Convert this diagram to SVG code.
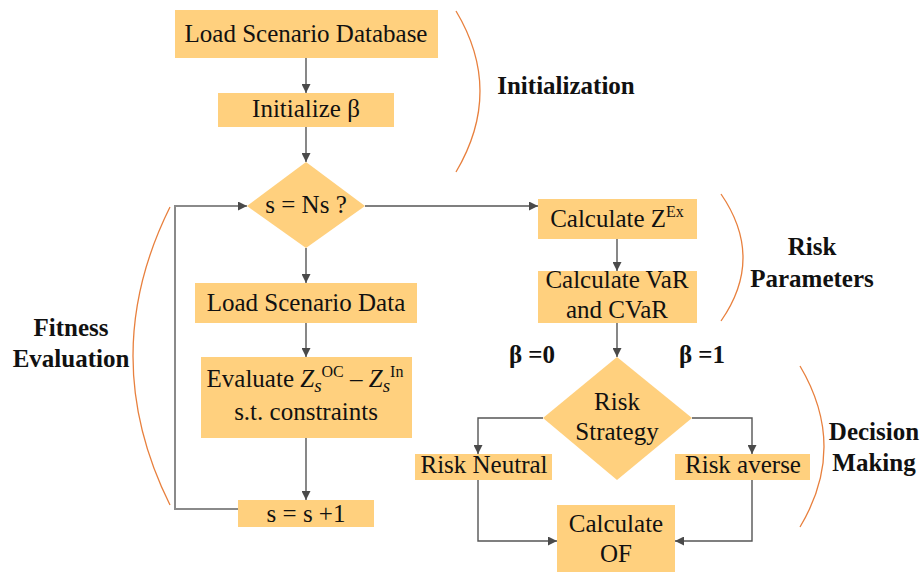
<svg xmlns="http://www.w3.org/2000/svg" width="923" height="573" viewBox="0 0 923 573">
<style>
.box{fill:#FFD07E}
.t{font-family:"Liberation Serif","Times New Roman",serif;font-size:25px;fill:#111;text-anchor:middle}
.b{font-family:"Liberation Serif","Times New Roman",serif;font-size:25px;font-weight:bold;fill:#111;text-anchor:middle}
.c{fill:none;stroke:#555;stroke-width:1.4}
.loop{fill:none;stroke:#8a8a8a;stroke-width:2}
.arc{fill:none;stroke:#E8803E;stroke-width:1.3}
</style>
<defs>
<marker id="ah" viewBox="0 0 10 10" refX="10" refY="5" markerWidth="9" markerHeight="9" markerUnits="userSpaceOnUse" orient="auto">
<path d="M0,0 L10,5 L0,10 z" fill="#4a4a4a"/>
</marker>
</defs>
<rect width="923" height="573" fill="#fff"/>
<g id="connectors">
<line class="c" x1="306" y1="58" x2="306" y2="93" marker-end="url(#ah)"/>
<line class="c" x1="306" y1="127" x2="306" y2="162" marker-end="url(#ah)"/>
<line class="c" x1="365" y1="206" x2="538" y2="206" marker-end="url(#ah)"/>
<line class="c" x1="306" y1="248" x2="306" y2="283" marker-end="url(#ah)"/>
<line class="c" x1="306" y1="323" x2="306" y2="357" marker-end="url(#ah)"/>
<line class="c" x1="306" y1="438" x2="306" y2="500" marker-end="url(#ah)"/>
<polyline class="loop" points="238,509 175,509 175,206 240,206"/>
<line class="c" x1="238" y1="206" x2="247" y2="206" marker-end="url(#ah)"/>
<line class="c" x1="617" y1="239" x2="617" y2="271" marker-end="url(#ah)"/>
<line class="c" x1="617" y1="323" x2="617" y2="357" marker-end="url(#ah)"/>
<polyline class="c" points="543,418 478,418 478,454" marker-end="url(#ah)"/>
<polyline class="c" points="692,418 752,418 752,454" marker-end="url(#ah)"/>
<polyline class="c" points="478,480 478,541 557,541" marker-end="url(#ah)"/>
<polyline class="c" points="752,480 752,541 675,541" marker-end="url(#ah)"/>
</g>
<g id="brackets">
<path class="arc" d="M456,11 Q504,91 456,172"/>
<path class="arc" d="M721,194 Q765,258 721,321"/>
<path class="arc" d="M800,366 Q848,447 800,527"/>
<path class="arc" d="M170,207 Q96,356 170,505"/>
</g>
<g id="n-load-db"><rect class="box" x="175" y="10" width="263" height="48"/><text class="t" x="306" y="42">Load Scenario Database</text></g>
<g id="n-init-beta"><rect class="box" x="218" y="93" width="176" height="34"/><text class="t" x="306" y="117">Initialize β</text></g>
<g id="n-s-ns"><polygon class="box" points="306,162 365,206 306,248 247,206"/><text class="t" x="306" y="213">s = Ns ?</text></g>
<g id="n-load-data"><rect class="box" x="195" y="283" width="222" height="40"/><text class="t" x="306" y="311">Load Scenario Data</text></g>
<g id="n-evaluate"><rect class="box" x="201" y="357" width="211" height="81"/>
<text class="t" x="305" y="387">Evaluate <tspan font-style="italic">Z</tspan><tspan font-style="italic" font-size="19" dy="5">s</tspan><tspan font-size="16" dy="-15">OC</tspan><tspan dy="10"> – </tspan><tspan font-style="italic">Z</tspan><tspan font-style="italic" font-size="19" dy="5">s</tspan><tspan font-size="16" dy="-15">In</tspan></text>
<text class="t" x="306" y="420">s.t. constraints</text></g>
<g id="n-increment"><rect class="box" x="238" y="500" width="136" height="27"/><text class="t" x="306" y="522">s = s +1</text></g>
<g id="n-calc-zex"><rect class="box" x="538" y="199" width="159" height="40"/><text class="t" x="617" y="227">Calculate Z<tspan font-size="16" dy="-10">Ex</tspan></text></g>
<g id="n-calc-var"><rect class="box" x="538" y="271" width="159" height="52"/><text class="t" x="617" y="288">Calculate VaR</text><text class="t" x="617" y="318">and CVaR</text></g>
<g id="n-risk-strategy"><polygon class="box" points="617,357 692,418 617,480 543,418"/><text class="t" x="617" y="410">Risk</text><text class="t" x="617" y="440">Strategy</text></g>
<g id="n-risk-neutral"><rect class="box" x="415" y="454" width="137" height="26"/><text class="t" x="484" y="473">Risk Neutral</text></g>
<g id="n-risk-averse"><rect class="box" x="675" y="454" width="135" height="26"/><text class="t" x="743" y="473">Risk averse</text></g>
<g id="n-calc-of"><rect class="box" x="557" y="505" width="118" height="67"/><text class="t" x="616" y="532">Calculate</text><text class="t" x="616" y="562">OF</text></g>
<g id="labels">
<text class="b" x="566" y="94">Initialization</text>
<text class="b" x="812" y="255">Risk</text>
<text class="b" x="812" y="287">Parameters</text>
<text class="b" x="71" y="336">Fitness</text>
<text class="b" x="71" y="367">Evaluation</text>
<text class="b" x="874" y="440">Decision</text>
<text class="b" x="874" y="471">Making</text>
<text class="b" x="532" y="363">β =0</text>
<text class="b" x="702" y="363">β =1</text>
</g>
</svg>
